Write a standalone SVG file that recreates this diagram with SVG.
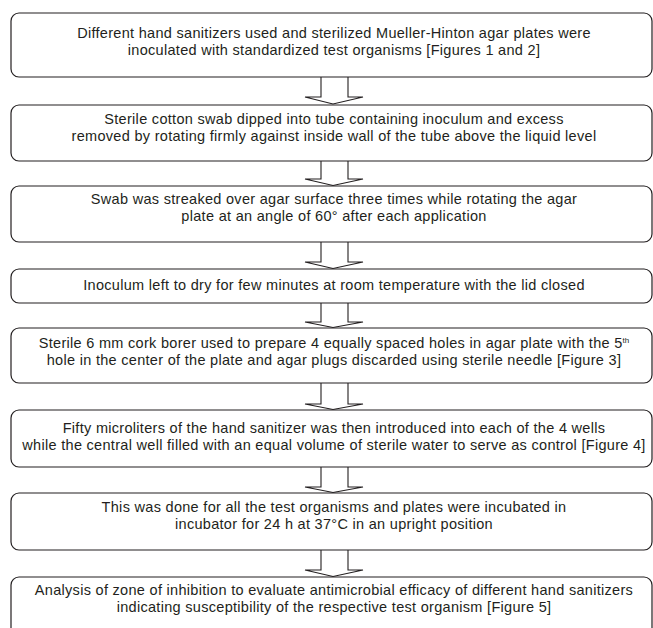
<svg xmlns="http://www.w3.org/2000/svg" width="653" height="628" viewBox="0 0 653 628">
<style>
.box{fill:#fff;stroke:#231f20;stroke-width:1.2}
.arr{fill:#fff;stroke:#231f20;stroke-width:1.1;stroke-linejoin:miter}
text{font-family:"Liberation Sans",Arial,sans-serif;font-size:14.5px;letter-spacing:0.3px;fill:#231f20;text-anchor:middle}
</style>
<rect width="653" height="628" fill="#fff"/>
<g id="connectors">
<path class="arr" d="M321,77 V97 H305 L333,104 L363,97 H348 V77"/>
<path class="arr" d="M321,161 V179 H305 L333,185.5 L363,179 H348 V161"/>
<path class="arr" d="M321,242 V262 H305 L333,268.5 L363,262 H348 V242"/>
<path class="arr" d="M321,303 V322 H305 L333,327.5 L363,322 H348 V303"/>
<path class="arr" d="M321,383 V404 H305 L333,409.5 L363,404 H348 V383"/>
<path class="arr" d="M321,467 V487 H305 L333,492.5 L363,487 H348 V467"/>
<path class="arr" d="M321,550 V570 H305 L333,576.5 L363,570 H348 V550"/>
</g>
<g id="n1"><rect class="box" x="11" y="13" width="641" height="64" rx="8"/>
<text x="334" y="38">Different hand sanitizers used and sterilized Mueller-Hinton agar plates were</text>
<text x="334" y="55">inoculated with standardized test organisms [Figures 1 and 2]</text></g>
<g id="n2"><rect class="box" x="11" y="105" width="641" height="56" rx="8"/>
<text x="334" y="124">Sterile cotton swab dipped into tube containing inoculum and excess</text>
<text x="334" y="141">removed by rotating firmly against inside wall of the tube above the liquid level</text></g>
<g id="n3"><rect class="box" x="11" y="186" width="641" height="56" rx="8"/>
<text x="334" y="204">Swab was streaked over agar surface three times while rotating the agar</text>
<text x="334" y="221">plate at an angle of 60° after each application</text></g>
<g id="n4"><rect class="box" x="11" y="269" width="641" height="34" rx="8"/>
<text x="334" y="290">Inoculum left to dry for few minutes at room temperature with the lid closed</text></g>
<g id="n5"><rect class="box" x="11" y="328" width="641" height="55" rx="8"/>
<text x="334" y="348">Sterile 6 mm cork borer used to prepare 4 equally spaced holes in agar plate with the 5<tspan font-size="8" dy="-5" letter-spacing="0">th</tspan></text>
<text x="334" y="365">hole in the center of the plate and agar plugs discarded using sterile needle [Figure 3]</text></g>
<g id="n6"><rect class="box" x="11" y="410" width="641" height="57" rx="8"/>
<text x="334" y="433">Fifty microliters of the hand sanitizer was then introduced into each of the 4 wells</text>
<text x="334" y="450">while the central well filled with an equal volume of sterile water to serve as control [Figure 4]</text></g>
<g id="n7"><rect class="box" x="11" y="493" width="641" height="57" rx="8"/>
<text x="334" y="512">This was done for all the test organisms and plates were incubated in</text>
<text x="334" y="529">incubator for 24 h at 37°C in an upright position</text></g>
<g id="n8"><rect class="box" x="11" y="577" width="641" height="60" rx="8"/>
<text x="334" y="595">Analysis of zone of inhibition to evaluate antimicrobial efficacy of different hand sanitizers</text>
<text x="334" y="612">indicating susceptibility of the respective test organism [Figure 5]</text></g>
</svg>
